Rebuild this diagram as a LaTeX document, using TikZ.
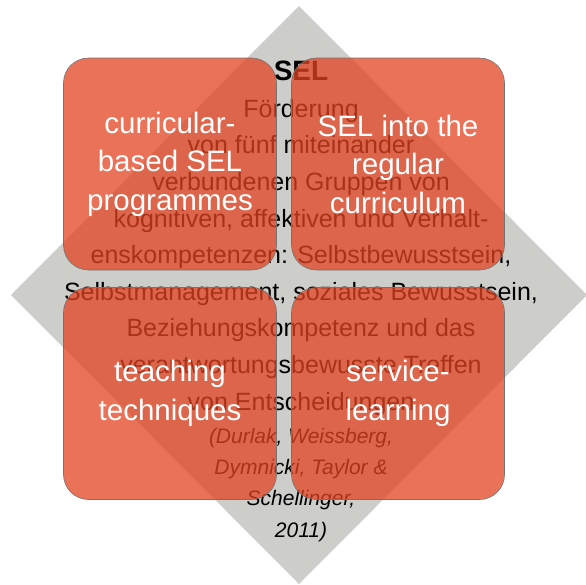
\documentclass[tikz,border=0pt]{standalone}
\usepackage{fontspec}
\setmainfont{Liberation Sans}
\usetikzlibrary{calc}
\definecolor{tomato}{RGB}{227,67,33}
\definecolor{silver}{RGB}{205,205,201}
\tikzset{sq/.style={draw=black!55,line width=.6pt,fill=tomato,fill opacity=.75,text opacity=1,rounded corners=25pt,minimum width=213pt,minimum height=212pt,inner sep=0pt,text=white,align=center,font=\fontsize{29.5}{38.5}\selectfont}}
\tikzset{bd/.style={align=center,anchor=base,inner sep=0pt,font=\fontsize{25}{36.6}\selectfont}}
\tikzset{ct/.style={align=center,anchor=base,inner sep=0pt,font=\fontsize{21}{31.3}\selectfont\itshape}}

\begin{document}
\begin{tikzpicture}[x=1pt,y=-1pt]
        \useasboundingbox (0,0) rectangle (586,584);
        \fill[silver] (299,6)--(587,295)--(299,584)--(11,295)--cycle;
        \node (title) [bd,font=\fontsize{28}{28}\selectfont\bfseries] at (301,80) {SEL};
        \node (body) [bd] at (301,410) {F\"orderung\\von f\"unf miteinander\\verbundenen Gruppen von\\kognitiven, affektiven und Verhalt-\\enskompetenzen: Selbstbewusstsein,\\Selbstmanagement, soziales Bewusstsein,\\Beziehungskompetenz und das\\verantwortungsbewusste Treffen\\von Entscheidungen};
        \node (cite) [ct] at (301,537) {(Durlak, Weissberg,\\Dymnicki, Taylor \&\\Schellinger,\\2011)};
        \node (cur) [sq] at (170,164) {curricular-\\based SEL\\programmes};
        \node (reg) [sq] at (398,164) {SEL into the\\regular\\curriculum};
        \node (tea) [sq] at (170,393.5) {teaching\\techniques};
        \node (ser) [sq] at (398,393.5) {service-\\learning};
      \end{tikzpicture}
\end{document}
